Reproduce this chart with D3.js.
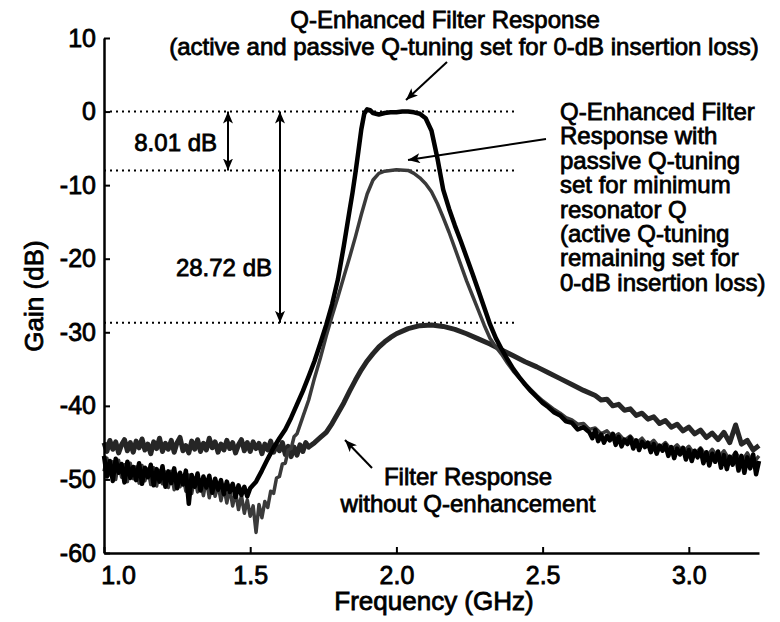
<!DOCTYPE html>
<html lang="en">
  <head>
    <meta charset="utf-8" />
    <title>Q-enhanced filter response</title>
    <script src="https://cdnjs.cloudflare.com/ajax/libs/d3/7.8.5/d3.min.js"></script>
    <style type="text/css">
      body { margin: 0; background: #fff; }
      svg text {
        font-family: "Liberation Sans", Arial, sans-serif;
        fill: #000;
        stroke: #000;
        stroke-width: 0.8px;
      }
    </style>
  </head>

  <body>
    <div id="chart"></div>
    <script>
      // axis ticks
      const xTicks = [1.0, 1.5, 2.0, 2.5, 3.0];
      const yTicks = [10, 0, -10, -20, -30, -40, -50, -60];

      // reference levels (dB)
      const refLevels = [0, -8.01, -28.72];

      // without Q-enhancement
      const traceC = [
        [1.00,-45.0],[1.01,-46.2],[1.02,-44.7],[1.03,-45.9],[1.04,-44.9],[1.05,-46.4],
        [1.06,-45.3],[1.07,-44.6],[1.08,-46.1],[1.09,-45.0],[1.10,-46.3],[1.11,-44.8],
        [1.12,-45.7],[1.13,-44.5],[1.14,-46.0],[1.15,-45.2],[1.16,-46.5],[1.17,-44.9],
        [1.18,-45.8],[1.19,-44.4],[1.20,-46.2],[1.21,-45.1],[1.22,-45.9],[1.23,-44.7],
        [1.24,-46.3],[1.25,-45.0],[1.26,-44.3],[1.27,-46.1],[1.28,-45.4],[1.29,-46.4],
        [1.30,-44.8],[1.31,-45.9],[1.32,-44.6],[1.33,-46.2],[1.34,-45.1],[1.35,-46.0],
        [1.36,-44.4],[1.37,-45.7],[1.38,-44.9],[1.39,-46.3],[1.40,-45.2],[1.41,-46.0],
        [1.42,-44.7],[1.43,-45.8],[1.44,-45.0],[1.45,-46.4],[1.46,-45.3],[1.47,-44.6],
        [1.48,-46.1],[1.49,-45.0],[1.50,-46.2],[1.51,-44.9],[1.52,-45.8],[1.53,-45.1],
        [1.54,-46.5],[1.55,-45.2],[1.56,-46.0],[1.57,-44.8],[1.58,-46.3],[1.59,-45.4],
        [1.60,-46.1],[1.61,-45.0],[1.62,-46.6],[1.63,-45.5],[1.64,-46.9],[1.65,-45.6],
        [1.66,-46.7],[1.67,-45.3],[1.68,-46.2],[1.69,-45.0],[1.70,-45.6],
        [1.72,-45.0],[1.74,-44.3],[1.76,-43.6],[1.78,-42.4],[1.80,-41.0],[1.82,-39.6],
        [1.84,-38.0],[1.86,-36.5],[1.88,-35.1],[1.90,-33.9],[1.92,-32.9],[1.94,-32.0],
        [1.96,-31.3],[1.98,-30.7],[2.00,-30.2],[2.04,-29.5],[2.08,-29.1],[2.12,-29.0],
        [2.16,-29.2],[2.20,-29.6],[2.24,-30.2],[2.28,-30.9],[2.32,-31.6],[2.36,-32.4],
        [2.40,-33.2],[2.44,-34.0],[2.48,-34.7],[2.52,-35.5],[2.56,-36.3],[2.60,-37.1],
        [2.64,-37.9],[2.68,-38.6],[2.70,-39.2],[2.72,-39.1],[2.74,-40.0],[2.76,-39.8],
        [2.78,-40.6],[2.80,-40.4],[2.82,-41.3],[2.84,-41.0],[2.86,-41.8],[2.88,-41.5],
        [2.90,-42.4],[2.92,-42.0],[2.94,-42.9],[2.96,-42.5],[2.98,-43.4],[3.00,-42.9],
        [3.02,-43.8],[3.04,-43.3],[3.06,-44.3],[3.08,-43.7],[3.10,-44.6],[3.12,-43.6],
        [3.14,-45.0],[3.16,-42.6],[3.18,-45.2],[3.20,-44.7],[3.22,-46.0],[3.24,-45.4]
      ];

      // Q-enhanced, passive Q-tuning at minimum resonator Q
      const traceB = [
        [1.00,-48.9],[1.01,-47.1],[1.02,-49.4],[1.03,-47.6],[1.04,-50.0],[1.05,-47.4],
        [1.06,-49.7],[1.07,-48.0],[1.08,-50.3],[1.09,-47.8],[1.10,-49.9],[1.11,-48.3],
        [1.12,-50.5],[1.13,-48.1],[1.14,-50.2],[1.15,-48.6],[1.16,-50.7],[1.17,-48.4],
        [1.18,-50.9],[1.19,-48.8],[1.20,-50.6],[1.21,-49.0],[1.22,-51.1],[1.23,-48.9],
        [1.24,-51.4],[1.25,-49.3],[1.26,-51.0],[1.27,-49.5],[1.28,-51.6],[1.29,-49.4],
        [1.30,-51.9],[1.31,-49.8],[1.32,-51.7],[1.33,-50.1],[1.34,-52.2],[1.35,-50.0],
        [1.36,-52.5],[1.37,-50.4],[1.38,-52.3],[1.39,-50.7],[1.40,-52.9],[1.41,-51.0],
        [1.42,-53.2],[1.43,-51.2],[1.44,-53.6],[1.45,-51.7],[1.46,-54.1],[1.47,-52.2],
        [1.48,-54.6],[1.49,-52.8],[1.50,-55.0],[1.51,-53.6],[1.52,-57.2],[1.53,-53.4],
        [1.54,-55.2],[1.55,-53.0],[1.56,-53.8],[1.57,-51.6],[1.58,-51.9],[1.59,-49.8],
        [1.60,-49.6],[1.61,-47.9],[1.62,-47.8],[1.63,-46.0],[1.64,-45.8],[1.65,-44.2],
        [1.66,-43.8],[1.68,-41.5],[1.70,-39.2],[1.72,-36.2],[1.74,-33.5],[1.76,-30.5],
        [1.78,-27.8],[1.80,-25.2],[1.82,-22.5],[1.84,-19.8],[1.86,-17.0],[1.88,-14.0],
        [1.90,-11.2],[1.92,-9.3],[1.94,-8.4],[1.96,-8.1],[2.00,-7.9],[2.04,-8.0],
        [2.06,-8.4],[2.08,-9.0],[2.10,-9.8],[2.12,-10.9],[2.14,-12.5],[2.16,-14.4],
        [2.18,-16.4],[2.20,-18.6],[2.22,-20.8],[2.24,-23.0],[2.26,-25.0],[2.28,-27.0],
        [2.30,-29.0],[2.32,-30.8],[2.34,-32.0],[2.36,-33.0],[2.38,-34.2],[2.40,-35.3],
        [2.42,-36.2],[2.44,-37.0],[2.46,-37.8],[2.48,-38.6],[2.50,-39.3],[2.52,-39.9],
        [2.54,-40.5],[2.56,-41.0],[2.58,-41.6],[2.60,-41.9],[2.62,-42.5],[2.64,-42.4],
        [2.66,-43.2],[2.68,-43.0],[2.70,-43.8],[2.72,-43.4],[2.74,-44.3],[2.76,-43.8],
        [2.78,-44.7],[2.80,-44.1],[2.82,-45.1],[2.84,-44.4],[2.86,-45.4],[2.88,-44.7],
        [2.90,-45.7],[2.92,-45.0],[2.94,-46.0],[2.96,-45.3],[2.98,-46.3],[3.00,-45.5],
        [3.02,-46.6],[3.04,-45.7],[3.06,-46.9],[3.08,-45.9],[3.10,-47.1],[3.12,-46.1],
        [3.14,-47.4],[3.16,-46.3],[3.18,-47.6],[3.20,-46.4],[3.22,-47.8],[3.24,-46.8]
      ];

      // Q-enhanced, 0-dB insertion loss
      const traceA = [
        [1.00,-46.8],[1.01,-49.6],[1.02,-47.5],[1.03,-50.2],[1.04,-47.2],[1.05,-49.1],
        [1.06,-47.9],[1.07,-50.4],[1.08,-47.6],[1.09,-49.8],[1.10,-48.3],[1.11,-50.1],
        [1.12,-47.8],[1.13,-50.6],[1.14,-48.4],[1.15,-49.7],[1.16,-48.0],[1.17,-50.8],
        [1.18,-48.6],[1.19,-50.3],[1.20,-48.2],[1.21,-51.0],[1.22,-48.9],[1.23,-50.5],
        [1.24,-48.5],[1.25,-51.2],[1.26,-49.1],[1.27,-50.7],[1.28,-48.8],[1.29,-53.3],
        [1.30,-49.4],[1.31,-51.0],[1.32,-49.2],[1.33,-51.5],[1.34,-49.6],[1.35,-51.1],
        [1.36,-49.5],[1.37,-51.8],[1.38,-49.9],[1.39,-51.4],[1.40,-50.1],[1.41,-52.0],
        [1.42,-50.3],[1.43,-51.7],[1.44,-50.6],[1.45,-52.4],[1.46,-50.8],[1.47,-52.1],
        [1.48,-51.0],[1.49,-52.3],[1.50,-51.2],[1.52,-50.3],[1.54,-48.8],[1.56,-47.2],
        [1.58,-45.7],[1.60,-44.4],[1.62,-43.2],[1.64,-41.6],[1.66,-39.8],[1.68,-38.0],
        [1.70,-36.0],[1.72,-33.9],[1.74,-31.5],[1.76,-29.0],[1.78,-26.2],[1.80,-22.8],
        [1.82,-18.3],[1.84,-13.4],[1.85,-11.0],[1.86,-8.3],[1.87,-5.4],[1.88,-2.4],
        [1.89,-0.3],[1.90,0.3],[1.91,0.2],[1.92,-0.2],[1.94,-0.4],[1.96,-0.2],
        [1.98,-0.1],[2.00,-0.1],[2.02,0.0],[2.04,0.0],[2.06,-0.1],[2.08,-0.3],
        [2.10,-0.9],[2.12,-2.6],[2.14,-6.3],[2.16,-10.6],[2.18,-13.2],[2.20,-15.5],
        [2.22,-17.6],[2.24,-19.8],[2.26,-22.0],[2.28,-24.3],[2.30,-26.6],[2.32,-28.9],
        [2.34,-30.8],[2.36,-32.3],[2.38,-33.7],[2.40,-35.0],[2.42,-36.1],[2.44,-37.1],
        [2.46,-38.0],[2.48,-38.8],[2.50,-39.6],[2.52,-40.2],[2.54,-40.9],[2.56,-41.3],
        [2.58,-42.1],[2.60,-42.3],[2.62,-43.2],[2.64,-42.9],
        [2.66,-43.6],[2.67,-44.4],[2.68,-43.3],[2.69,-44.8],[2.70,-43.9],[2.71,-45.0],
        [2.72,-44.1],[2.73,-44.7],[2.74,-43.8],[2.75,-45.3],[2.76,-44.2],[2.77,-45.5],
        [2.78,-44.6],[2.79,-45.2],[2.80,-44.3],[2.81,-45.8],[2.82,-44.7],[2.83,-46.0],
        [2.84,-44.9],[2.85,-45.6],[2.86,-45.0],[2.87,-46.3],[2.88,-45.2],[2.89,-46.5],
        [2.90,-45.4],[2.91,-46.1],[2.92,-45.3],[2.93,-46.8],[2.94,-45.6],[2.95,-47.1],
        [2.96,-45.8],[2.97,-46.6],[2.98,-45.7],[2.99,-47.3],[3.00,-46.0],[3.01,-47.5],
        [3.02,-46.1],[3.03,-47.0],[3.04,-45.9],[3.05,-47.8],[3.06,-46.3],[3.07,-48.1],
        [3.08,-46.5],[3.09,-47.6],[3.10,-46.2],[3.11,-48.4],[3.12,-46.7],[3.13,-48.6],
        [3.14,-46.9],[3.15,-48.0],[3.16,-46.4],[3.17,-48.8],[3.18,-46.8],[3.19,-49.1],
        [3.20,-47.0],[3.21,-48.5],[3.22,-46.6],[3.23,-49.3],[3.24,-47.5]
      ];

      const topLines = [
        'Q-Enhanced Filter Response',
        '(active and passive Q-tuning set for 0-dB insertion loss)'
      ];
      const rightLines = [
        'Q-Enhanced Filter', 'Response with', 'passive Q-tuning', 'set for minimum',
        'resonator Q', '(active Q-tuning', 'remaining set for', '0-dB insertion loss)'
      ];
      const bottomLines = ['Filter Response', 'without Q-enhancement'];

      const width = 780, height = 622;

      const x = d3.scaleLinear().domain([1.0, 3.24]).range([104, 759]);
      const y = d3.scaleLinear().domain([-60, 10]).range([553, 38]);

      const svg = d3.select('#chart')
        .append('svg')
        .attr('width', width)
        .attr('height', height);

      const defs = svg.append('defs');
      defs.append('marker')
        .attr('id', 'head')
        .attr('viewBox', '0 0 12 10')
        .attr('refX', 12)
        .attr('refY', 5)
        .attr('markerUnits', 'userSpaceOnUse')
        .attr('markerWidth', 12)
        .attr('markerHeight', 10)
        .attr('orient', 'auto-start-reverse')
        .append('path')
        .attr('d', 'M0,0 L12,5 L0,10 L3,5 Z')
        .attr('fill', '#000');

      // dotted reference lines
      svg.selectAll('.ref')
        .data(refLevels)
        .join('line')
        .attr('class', 'ref')
        .attr('x1', x(1.0))
        .attr('x2', 514)
        .attr('y1', d => y(d))
        .attr('y2', d => y(d))
        .attr('stroke', '#000')
        .attr('stroke-width', 2)
        .attr('stroke-dasharray', '2,4');

      const line = d3.line()
        .x(d => x(d[0]))
        .y(d => y(d[1]));

      svg.append('path')
        .attr('d', line(traceC))
        .attr('fill', 'none')
        .attr('stroke', '#262626')
        .attr('stroke-width', 5)
        .attr('stroke-linejoin', 'round');

      svg.append('path')
        .attr('d', line(traceB))
        .attr('fill', 'none')
        .attr('stroke', '#3a3a3a')
        .attr('stroke-width', 3.5)
        .attr('stroke-linejoin', 'round');

      svg.append('path')
        .attr('d', line(traceA))
        .attr('fill', 'none')
        .attr('stroke', '#000')
        .attr('stroke-width', 4.5)
        .attr('stroke-linejoin', 'round');

      // axes
      const xAxis = svg.append('g')
        .attr('transform', `translate(0,${y(-60)})`)
        .call(d3.axisBottom(x).tickValues(xTicks).tickFormat(d3.format('.1f'))
          .tickSizeInner(-6).tickSizeOuter(0).tickPadding(13));
      xAxis.selectAll('text').filter(d => d === 1.0).attr('dx', 14);

      const yAxis = svg.append('g')
        .attr('transform', `translate(${x(1.0)},0)`)
        .call(d3.axisLeft(y).tickValues(yTicks).tickFormat(d => String(d))
          .tickSizeInner(-6).tickSizeOuter(0).tickPadding(8));

      [xAxis, yAxis].forEach(g => {
        g.select('.domain').attr('stroke', '#000').attr('stroke-width', 2.5);
        g.selectAll('.tick line').attr('stroke', '#000').attr('stroke-width', 2);
        g.selectAll('text').attr('font-size', 25).attr('fill', '#000')
          .attr('font-family', '"Liberation Sans", Arial, sans-serif');
      });

      svg.append('text')
        .attr('x', 434)
        .attr('y', 610)
        .attr('text-anchor', 'middle')
        .attr('font-size', 26)
        .text('Frequency (GHz)');

      svg.append('text')
        .attr('transform', 'translate(43,296) rotate(-90)')
        .attr('text-anchor', 'middle')
        .attr('font-size', 26)
        .text('Gain (dB)');

      // annotations
      svg.append('g').selectAll('text')
        .data(topLines)
        .join('text')
        .attr('x', (d, i) => i === 0 ? 445 : 464)
        .attr('y', (d, i) => 28 + i * 27)
        .attr('text-anchor', 'middle')
        .attr('font-size', 24)
        .text(d => d);

      svg.append('g').selectAll('text')
        .data(rightLines)
        .join('text')
        .attr('x', 560)
        .attr('y', (d, i) => 120 + i * 24.4)
        .attr('font-size', 24)
        .text(d => d);

      svg.append('g').selectAll('text')
        .data(bottomLines)
        .join('text')
        .attr('x', 468)
        .attr('y', (d, i) => 485 + i * 27)
        .attr('text-anchor', 'middle')
        .attr('font-size', 24)
        .text(d => d);

      svg.append('text')
        .attr('x', 217).attr('y', 151)
        .attr('text-anchor', 'end')
        .attr('font-size', 24)
        .text('8.01 dB');

      svg.append('text')
        .attr('x', 272).attr('y', 276)
        .attr('text-anchor', 'end')
        .attr('font-size', 24)
        .text('28.72 dB');

      // double arrows spanning the level differences
      const spans = [[228, refLevels[1]], [280, refLevels[2]]];
      svg.selectAll('.span')
        .data(spans)
        .join('line')
        .attr('class', 'span')
        .attr('x1', d => d[0]).attr('x2', d => d[0])
        .attr('y1', y(0)).attr('y2', d => y(d[1]))
        .attr('stroke', '#000')
        .attr('stroke-width', 2)
        .attr('marker-start', 'url(#head)')
        .attr('marker-end', 'url(#head)');

      // pointer arrows (from label toward trace)
      const pointers = [
        [447, 62, 406, 100],
        [546, 139, 408, 160],
        [372, 468, 345, 440]
      ];
      svg.selectAll('.ptr')
        .data(pointers)
        .join('line')
        .attr('class', 'ptr')
        .attr('x1', d => d[0]).attr('y1', d => d[1])
        .attr('x2', d => d[2]).attr('y2', d => d[3])
        .attr('stroke', '#000')
        .attr('stroke-width', 2)
        .attr('marker-end', 'url(#head)');
    </script>
  </body>
</html>
